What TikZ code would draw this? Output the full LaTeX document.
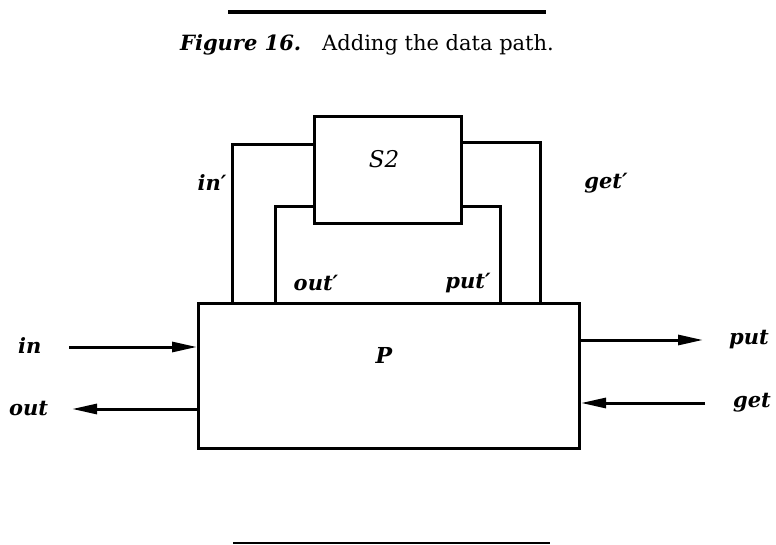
\documentclass[tikz,border=0pt]{standalone}
\usepackage{fontspec}
\setmainfont{DejaVu Serif}
\usetikzlibrary{arrows.meta}
\begin{document}
\begin{tikzpicture}[x=1pt,y=-1pt,
  box/.style={draw,line width=3pt,inner sep=0pt,anchor=north west},
  wire/.style={line width=3pt},
  arr/.style={line width=3pt,-{Triangle[length=25pt,width=10pt]}},
  lbl/.style={font=\fontsize{21}{24}\selectfont\itshape\bfseries,inner sep=0pt},
  captext/.style={font=\fontsize{21}{25}\selectfont,inner sep=0pt}]
\useasboundingbox (0,0) rectangle (776,545);
% rules
\draw[line width=4pt] (228,12) -- (546,12);
\draw[line width=2.2pt] (233,543) -- (550,543);
% caption
\node[captext] (caption) at (367,45) {\textbf{\textit{Figure 16.}}\quad Adding the data path.};
% boxes
\node[box,minimum width=381pt,minimum height=145pt] (P) at (197,302) {};
\node[box,minimum width=147pt,minimum height=107pt] (S2) at (313,115) {};
\node[lbl,font=\fontsize{23}{26}\selectfont\itshape] (s2t) at (384,159) {S2};
\node[lbl,font=\fontsize{22}{26}\selectfont\itshape\bfseries] (pt) at (384,355) {P};
% wire corner coordinates
\coordinate (c1) at (232,145);
\coordinate (c2) at (275,207);
\coordinate (c3) at (500,207);
\coordinate (c4) at (540,143);
\draw[wire] (S2.west |- c1) -| (c1 |- P.north);
\draw[wire] (S2.west |- c2) -| (c2 |- P.north);
\draw[wire] (S2.east |- c3) -| (c3 |- P.north);
\draw[wire] (S2.east |- c4) -| (c4 |- P.north);
% wire labels
\node[lbl] (inp) at (212,183) {in′};
\node[lbl] (getp) at (606,183) {get′};
\node[lbl] (outp) at (316,283) {out′};
\node[lbl] (putp) at (468,283) {put′};
% external arrows
\node[lbl,anchor=west] (in) at (18,346) {in};
\node[lbl,anchor=west] (out) at (9,409) {out};
\node[lbl,anchor=west] (put) at (729,340) {put};
\node[lbl,anchor=west] (get) at (733,403) {get};
\coordinate (ina) at (69,347);
\coordinate (outa) at (72,409);
\coordinate (puta) at (703,340);
\coordinate (geta) at (705,403);
\draw[arr] (ina) -- (P.west |- ina);
\draw[arr] (P.west |- outa) -- (outa);
\draw[arr] (P.east |- puta) -- (puta);
\draw[arr] (geta) -- (P.east |- geta);
\end{tikzpicture}
\end{document}
